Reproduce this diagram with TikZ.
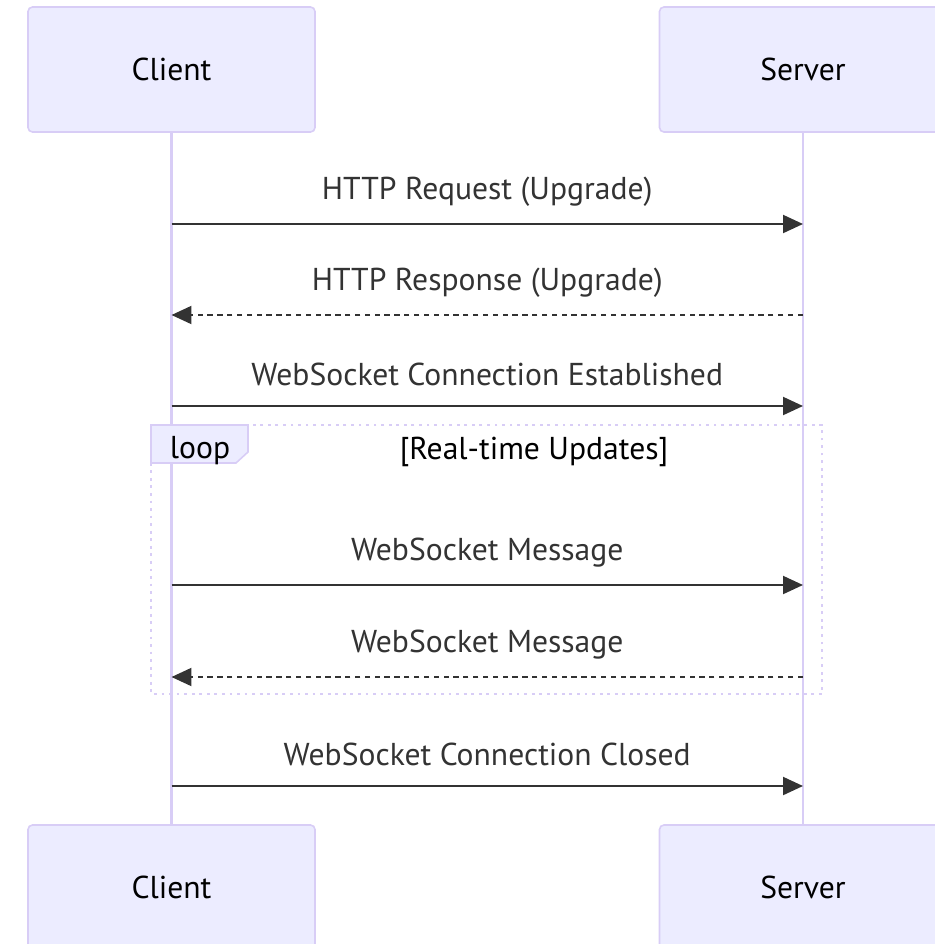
\documentclass[tikz,border=0pt]{standalone}
\usepackage{fontspec}
\setmainfont{PT Sans}
\usepackage{xcolor}
\usepackage{tikz}
\usetikzlibrary{arrows.meta}

\definecolor{actorfill}{HTML}{ECECFF}
\definecolor{actorline}{HTML}{D8CDF6}
\definecolor{msgline}{HTML}{333333}

\tikzset{
	actor/.style={rectangle, rounded corners=2.5pt, draw=actorline, fill=actorfill,
		line width=0.9pt, minimum width=5.74cm, minimum height=2.5cm,
		font=\fontsize{18}{22}\selectfont},
	lifeline/.style={draw=actorline, line width=1.7pt},
	msg/.style={draw=msgline, line width=1.2pt, -{Triangle[length=0.4cm,width=0.36cm]}},
	reply/.style={msg, dash pattern=on 3pt off 2.6pt},
	msglabel/.style={font=\fontsize{18}{22}\selectfont, text=msgline, yshift=0.64cm},
	loopbox/.style={draw=actorline, line width=1.5pt, dash pattern=on 1.6pt off 2.7pt},
	looptab/.style={draw=actorline, fill=actorfill, line width=0.9pt}
}

\begin{document}
\begin{tikzpicture}[x=0.02cm, y=-0.02cm]
		\clip (0,0) rectangle (935,944);
		% participants, top and bottom
		\node [actor] (clientTop) at (171.5,69.5)  {Client};
		\node [actor] (serverTop) at (803,69.5)    {Server};
		\node [actor] (clientBot) at (171.5,887.5) {Client};
		\node [actor] (serverBot) at (803,887.5)   {Server};
		% lifelines
		\draw [lifeline] (clientTop.south) -- (clientBot.north);
		\draw [lifeline] (serverTop.south) -- (serverBot.north);
		% end points of the messages on both lifelines
		\foreach \n/\y in {1/224, 2/315, 3/406, 4/585, 5/677, 6/786} {
			\coordinate (c\n) at (clientTop.south |- 0,\y);
			\coordinate (s\n) at (serverTop.south |- 0,\y);
		}
		% handshake
		\draw [msg]   (c1) -- node [msglabel] {HTTP Request (Upgrade)} (s1);
		\draw [reply] (s2) -- node [msglabel] {HTTP Response (Upgrade)} (c2);
		\draw [msg]   (c3) -- node [msglabel] {WebSocket Connection Established} (s3);
		% loop frame
		\draw [loopbox] (151,425) rectangle (822,694);
		\draw [looptab] (151,425) -- (248,425) -- (248,452) -- (236,463) -- (151,463) -- cycle;
		\node [font=\fontsize{18}{22}\selectfont] (loopname) at (200,451) {loop};
		\node [font=\fontsize{18}{22}\selectfont] (loopcond) at (534,452) {[Real-time Updates]};
		\draw [msg]   (c4) -- node [msglabel] {WebSocket Message} (s4);
		\draw [reply] (s5) -- node [msglabel] {WebSocket Message} (c5);
		% close
		\draw [msg]   (c6) -- node [msglabel] {WebSocket Connection Closed} (s6);
	\end{tikzpicture}
\end{document}
